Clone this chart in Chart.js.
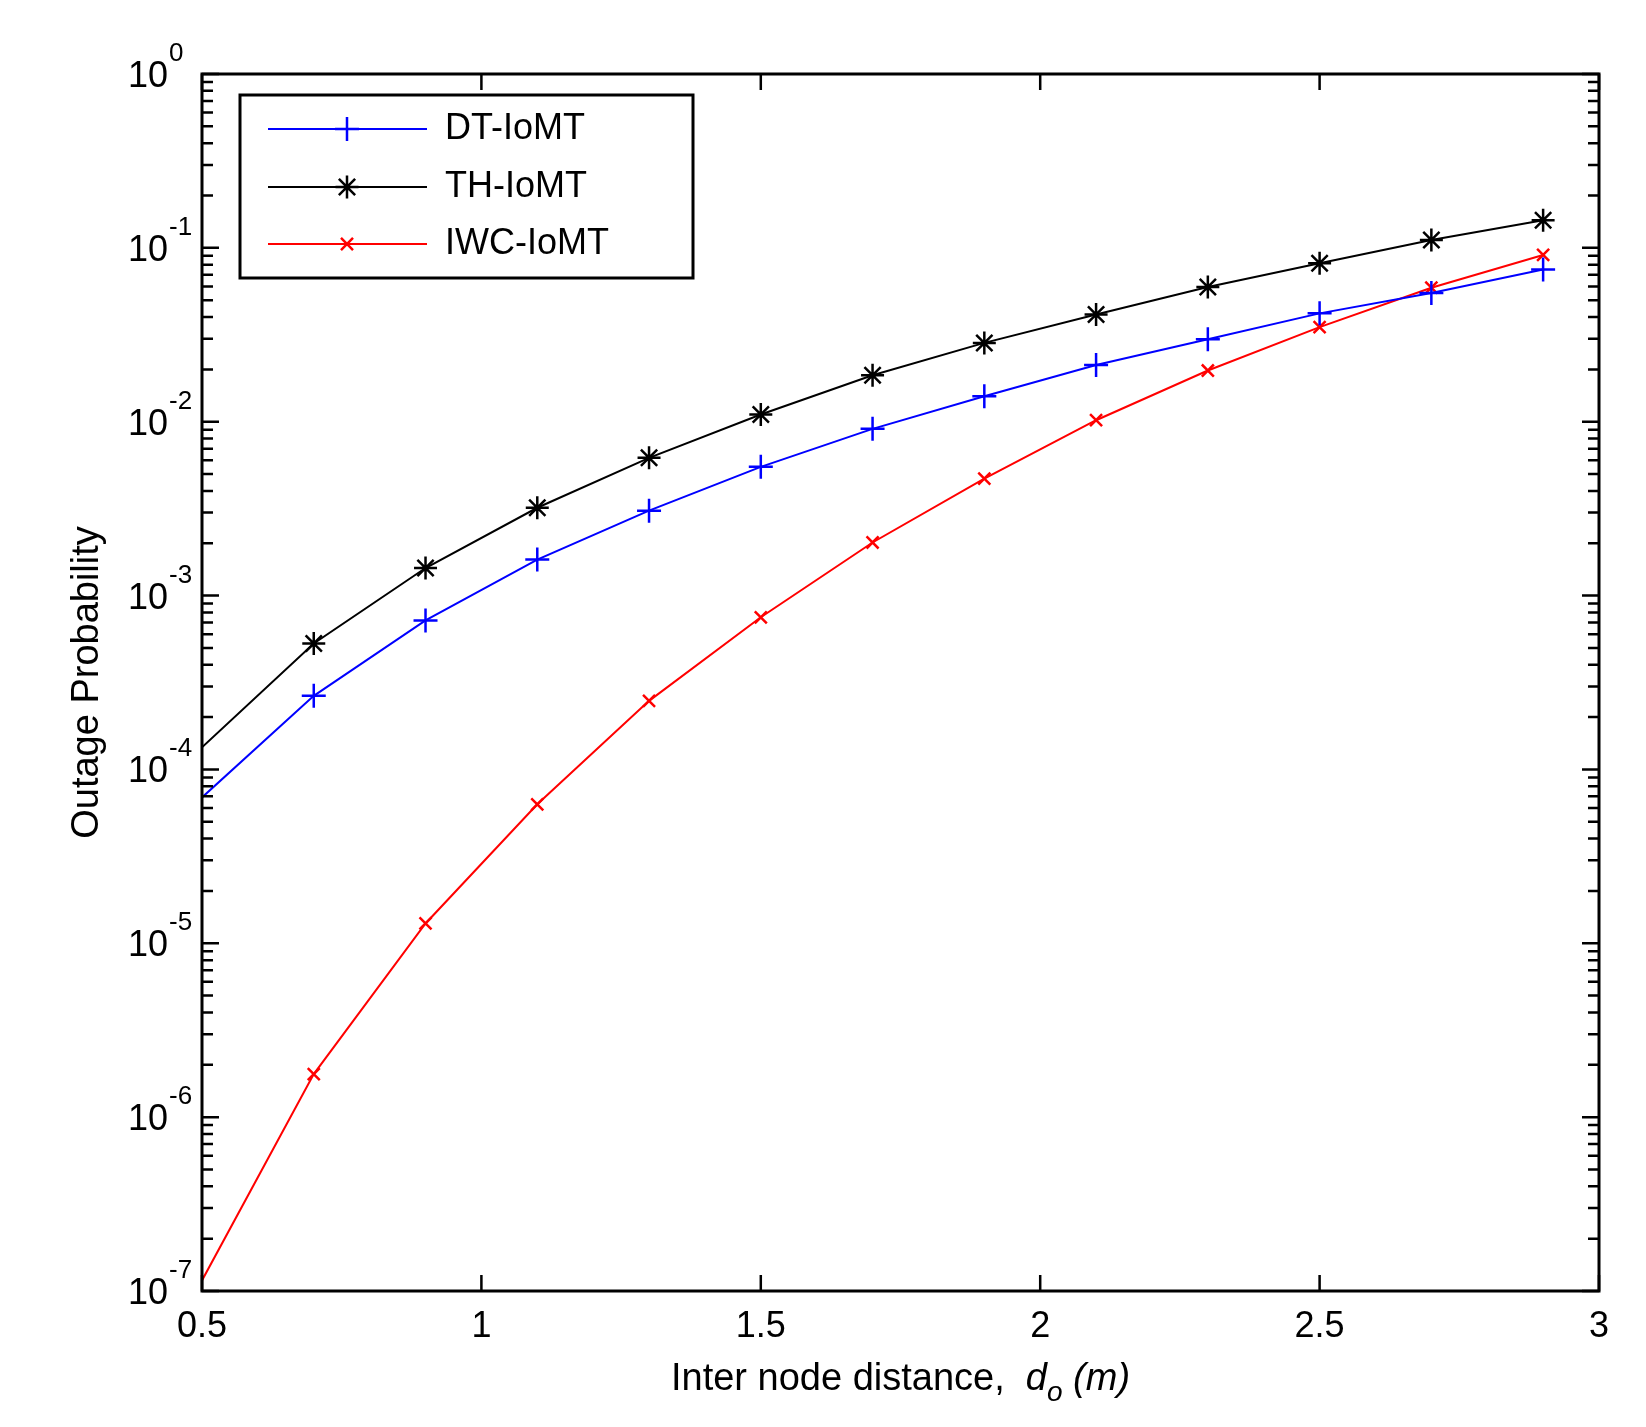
<!DOCTYPE html>
<html>
<head>
<meta charset="utf-8">
<title>Outage Probability</title>
<script src="https://cdn.jsdelivr.net/npm/chart.js"></script>
<style>
  html, body { margin: 0; padding: 0; background: #fff; }
  #chart { display: block; }
</style>
</head>
<body>
<canvas id="chart" width="1646" height="1427"></canvas>
<script>
// values
const distance = [0.5, 0.7, 0.9, 1.1, 1.3, 1.5, 1.7, 1.9, 2.1, 2.3, 2.5, 2.7, 2.9];
const dtIoMT = [6.9e-5, 2.65e-4, 7.2e-4, 1.61e-3, 3.08e-3, 5.5e-3, 9.1e-3, 1.40e-2, 2.12e-2, 2.98e-2, 4.2e-2, 5.5e-2, 7.5e-2];
const thIoMT = [1.34e-4, 5.3e-4, 1.44e-3, 3.2e-3, 6.2e-3, 1.1e-2, 1.85e-2, 2.84e-2, 4.14e-2, 5.96e-2, 8.15e-2, 0.111, 0.144];
const iwcIoMT = [1.15e-7, 1.77e-6, 1.3e-5, 6.3e-5, 2.48e-4, 7.5e-4, 2.02e-3, 4.7e-3, 1.02e-2, 1.97e-2, 3.5e-2, 5.9e-2, 9.1e-2];

const seriesNames = ['DT-IoMT', 'TH-IoMT', 'IWC-IoMT'];
const xTicks = [0.5, 1, 1.5, 2, 2.5, 3];
const yExponents = [-7, -6, -5, -4, -3, -2, -1, 0];

const FONT = '"Liberation Sans", Arial, Helvetica, sans-serif';

const toPoints = ys => distance.map((d, i) => ({ x: d, y: ys[i] }));
// no marker on the first sample (x = 0.5)
const markerSize = r => ctx => ctx.dataIndex === 0 ? 0 : r;

const makeSet = (label, ys, color, style, r) => ({
  label: label,
  data: toPoints(ys),
  borderColor: color,
  borderWidth: 2,
  pointStyle: style,
  pointRadius: markerSize(r),
  pointBorderColor: color,
  pointBackgroundColor: color,
  pointBorderWidth: 2.5,
  markerR: r,
  tension: 0,
  fill: false
});


//Marker drawing for the legend
const drawMarker = (ctx, style, x, y, r) => {
  ctx.beginPath();
  if (style === 'cross' || style === 'star') {
    ctx.moveTo(x - r, y); ctx.lineTo(x + r, y);
    ctx.moveTo(x, y - r); ctx.lineTo(x, y + r);
  }
  if (style === 'crossRot' || style === 'star') {
    const d = r * Math.SQRT1_2;
    ctx.moveTo(x - d, y - d); ctx.lineTo(x + d, y + d);
    ctx.moveTo(x - d, y + d); ctx.lineTo(x + d, y - d);
  }
  ctx.stroke();
};


//Axes box, inward ticks, labels, legend
const matlabAxes = {
  id: 'matlabAxes',
  afterDraw(chart) {
    const { ctx, chartArea: a, scales } = chart;
    const xs = scales.x, ys = scales.y;
    ctx.save();
    ctx.strokeStyle = '#000';
    ctx.fillStyle = '#000';
    ctx.lineWidth = 3;
    ctx.strokeRect(a.left, a.top, a.right - a.left, a.bottom - a.top);

    // x ticks
    ctx.lineWidth = 2.5;
    ctx.beginPath();
    xTicks.forEach(v => {
      const px = xs.getPixelForValue(v);
      ctx.moveTo(px, a.bottom); ctx.lineTo(px, a.bottom - 16);
      ctx.moveTo(px, a.top); ctx.lineTo(px, a.top + 16);
    });
    // y ticks (decades long, 2..9 short)
    yExponents.forEach(e => {
      const py = ys.getPixelForValue(Math.pow(10, e));
      ctx.moveTo(a.left, py); ctx.lineTo(a.left + 17, py);
      ctx.moveTo(a.right, py); ctx.lineTo(a.right - 17, py);
      if (e < 0) {
        for (let m = 2; m <= 9; m++) {
          const pm = ys.getPixelForValue(m * Math.pow(10, e));
          ctx.moveTo(a.left, pm); ctx.lineTo(a.left + 11, pm);
          ctx.moveTo(a.right, pm); ctx.lineTo(a.right - 11, pm);
        }
      }
    });
    ctx.stroke();

    // x tick labels
    ctx.font = '36px ' + FONT;
    ctx.textAlign = 'center';
    ctx.textBaseline = 'alphabetic';
    xTicks.forEach(v => {
      ctx.fillText(String(v), xs.getPixelForValue(v), a.bottom + 46);
    });

    // y tick labels 10^e
    yExponents.forEach(e => {
      const py = ys.getPixelForValue(Math.pow(10, e));
      ctx.font = '36px ' + FONT;
      ctx.textAlign = 'right';
      ctx.fillText('10', 168, py + 13);
      ctx.font = '26px ' + FONT;
      ctx.textAlign = 'left';
      ctx.fillText(e === 0 ? '0' : '-' + Math.abs(e), 169, py - 13);
    });

    // y title
    ctx.save();
    ctx.translate(98, (a.top + a.bottom) / 2);
    ctx.rotate(-Math.PI / 2);
    ctx.font = '38px ' + FONT;
    ctx.textAlign = 'center';
    ctx.fillText('Outage Probability', 0, 0);
    ctx.restore();

    // x title with subscript
    const parts = [
      { t: 'Inter node distance,  ', f: '38px ' + FONT, dy: 0 },
      { t: 'd', f: 'italic 38px ' + FONT, dy: 0 },
      { t: 'o', f: 'italic 28px ' + FONT, dy: 11 },
      { t: ' (m)', f: 'italic 38px ' + FONT, dy: 0 }
    ];
    let total = 0;
    parts.forEach(p => { ctx.font = p.f; p.w = ctx.measureText(p.t).width; total += p.w; });
    let cx = (a.left + a.right) / 2 - total / 2;
    ctx.textAlign = 'left';
    parts.forEach(p => {
      ctx.font = p.f;
      ctx.fillText(p.t, cx, 1390 + p.dy);
      cx += p.w;
    });

    // legend
    const lx = 240, ly = 95, lw = 453, lh = 183;
    ctx.fillStyle = '#fff';
    ctx.fillRect(lx, ly, lw, lh);
    ctx.strokeStyle = '#000';
    ctx.lineWidth = 3;
    ctx.strokeRect(lx, ly, lw, lh);
    const rows = [129, 187, 244];
    chart.data.datasets.forEach((ds, i) => {
      const ry = rows[i];
      ctx.strokeStyle = ds.borderColor;
      ctx.lineWidth = 2;
      ctx.beginPath();
      ctx.moveTo(268, ry); ctx.lineTo(427, ry);
      ctx.stroke();
      ctx.lineWidth = ds.pointBorderWidth;
      drawMarker(ctx, ds.pointStyle, 347, ry, ds.markerR);
      ctx.fillStyle = '#000';
      ctx.font = '36px ' + FONT;
      ctx.textAlign = 'left';
      ctx.textBaseline = 'middle';
      ctx.fillText(ds.label, 445, ry);
      ctx.textBaseline = 'alphabetic';
    });
    ctx.restore();
  }
};


//Display chart
const config = {
  type: 'line',
  data: {
    datasets: [
      makeSet(seriesNames[0], dtIoMT, '#0000ff', 'cross', 12),
      makeSet(seriesNames[1], thIoMT, '#000000', 'star', 11.5),
      makeSet(seriesNames[2], iwcIoMT, '#ff0000', 'crossRot', 8.5)
    ]
  },
  options: {
    responsive: false,
    animation: false,
    devicePixelRatio: 1,
    layout: { padding: { left: 202, right: 47, top: 74, bottom: 136 } },
    plugins: {
      legend: { display: false },
      tooltip: { enabled: false }
    },
    scales: {
      x: { type: 'linear', min: 0.5, max: 3, display: false },
      y: { type: 'logarithmic', min: 1e-7, max: 1, display: false }
    }
  },
  plugins: [matlabAxes]
};

const myChart = new Chart(document.getElementById('chart'), config);
</script>
</body>
</html>
